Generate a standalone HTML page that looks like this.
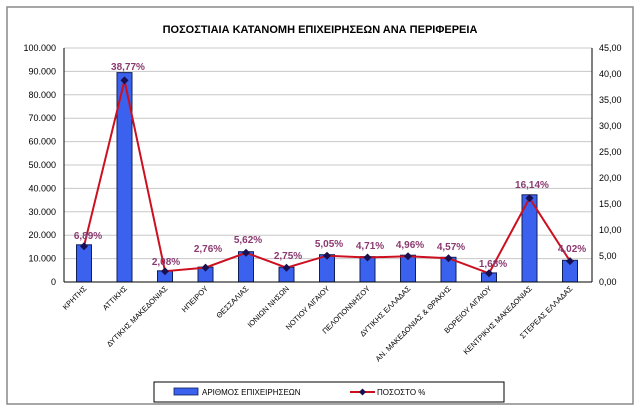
<!DOCTYPE html><html><head><meta charset="utf-8"><style>body{margin:0;background:#fff}</style></head><body>
<svg width="640" height="412" xmlns="http://www.w3.org/2000/svg" font-family="Liberation Sans, DejaVu Sans, sans-serif">
<rect x="0" y="0" width="640" height="412" fill="#fff"/>
<rect x="7" y="7" width="626" height="397" fill="#fff" stroke="#888" stroke-width="1.5"/>
<text x="320" y="33" text-anchor="middle" font-size="11" font-weight="bold">ΠΟΣΟΣΤΙΑΙΑ ΚΑΤΑΝΟΜΗ ΕΠΙΧΕΙΡΗΣΕΩΝ ΑΝΑ ΠΕΡΙΦΕΡΕΙΑ</text>
<g id="grid" stroke="#c8c8c8" stroke-width="1">
<line x1="64" x2="592" y1="48" y2="48"/><line x1="64" x2="592" y1="71.4" y2="71.4"/><line x1="64" x2="592" y1="94.8" y2="94.8"/><line x1="64" x2="592" y1="118.2" y2="118.2"/><line x1="64" x2="592" y1="141.6" y2="141.6"/><line x1="64" x2="592" y1="165" y2="165"/><line x1="64" x2="592" y1="188.4" y2="188.4"/><line x1="64" x2="592" y1="211.8" y2="211.8"/><line x1="64" x2="592" y1="235.2" y2="235.2"/><line x1="64" x2="592" y1="258.6" y2="258.6"/>
</g>
<g font-size="9" fill="#000" text-anchor="end">
<text x="56" y="51">100.000</text><text x="56" y="74.4">90.000</text><text x="56" y="97.8">80.000</text><text x="56" y="121.2">70.000</text><text x="56" y="144.6">60.000</text><text x="56" y="168">50.000</text><text x="56" y="191.4">40.000</text><text x="56" y="214.8">30.000</text><text x="56" y="238.2">20.000</text><text x="56" y="261.6">10.000</text><text x="56" y="285">0</text>
</g>
<g font-size="9" fill="#000">
<text x="599" y="51">45,00</text><text x="599" y="77">40,00</text><text x="599" y="103">35,00</text><text x="599" y="129">30,00</text><text x="599" y="155">25,00</text><text x="599" y="181">20,00</text><text x="599" y="207">15,00</text><text x="599" y="233">10,00</text><text x="599" y="259">5,00</text><text x="599" y="285">0,00</text>
</g>
<g id="bars" fill="#3a62ee" stroke="#10205a" stroke-width="1">
<rect x="76.5" y="244.8" width="15" height="37.2"/>
<rect x="117" y="72.6" width="15" height="209.4"/>
<rect x="157.5" y="270.8" width="15" height="11.2"/>
<rect x="198" y="267.1" width="15" height="14.9"/>
<rect x="238.5" y="251.7" width="15" height="30.3"/>
<rect x="279" y="267.2" width="15" height="14.8"/>
<rect x="319.5" y="254.7" width="15" height="27.3"/>
<rect x="360" y="256.6" width="15" height="25.4"/>
<rect x="400.5" y="255.2" width="15" height="26.8"/>
<rect x="441" y="257.3" width="15" height="24.7"/>
<rect x="481.5" y="272.9" width="15" height="9.1"/>
<rect x="522" y="194.8" width="15" height="87.2"/>
<rect x="562.5" y="260.3" width="15" height="21.7"/>
</g>
<g stroke="#000" stroke-width="1">
<line x1="64" x2="64" y1="48" y2="282"/><line x1="592" x2="592" y1="48" y2="282"/><line x1="64" x2="592" y1="282" y2="282"/>
</g>
<polyline fill="none" stroke="#cc1020" stroke-width="2" points="84,246.2 124.5,80.4 165,271.2 205.5,267.6 246,252.8 286.5,267.7 327,255.7 367.5,257.5 408,256.2 448.5,258.2 489,273.3 529.5,198.1 570,261.1"/>
<g fill="#1a1050">
<path d="M84 242.2l4 4-4 4-4-4z"/><path d="M124.5 76.4l4 4-4 4-4-4z"/><path d="M165 267.2l4 4-4 4-4-4z"/><path d="M205.5 263.6l4 4-4 4-4-4z"/><path d="M246 248.8l4 4-4 4-4-4z"/><path d="M286.5 263.7l4 4-4 4-4-4z"/><path d="M327 251.7l4 4-4 4-4-4z"/><path d="M367.5 253.5l4 4-4 4-4-4z"/><path d="M408 252.2l4 4-4 4-4-4z"/><path d="M448.5 254.2l4 4-4 4-4-4z"/><path d="M489 269.3l4 4-4 4-4-4z"/><path d="M529.5 194.1l4 4-4 4-4-4z"/><path d="M570 257.1l4 4-4 4-4-4z"/>
</g>
<g font-size="10" font-weight="bold" fill="#8a3a70" text-anchor="middle">
<text x="88" y="239">6,89%</text><text x="128" y="70">38,77%</text><text x="166" y="265">2,08%</text><text x="208" y="252">2,76%</text><text x="248" y="243">5,62%</text><text x="288" y="259">2,75%</text><text x="329" y="247">5,05%</text><text x="370" y="249">4,71%</text><text x="410" y="248">4,96%</text><text x="451" y="250">4,57%</text><text x="493" y="267">1,68%</text><text x="532" y="188">16,14%</text><text x="572" y="252">4,02%</text>
</g>
<g font-size="7.5" fill="#000" text-anchor="end">
<text transform="translate(87,289) rotate(-45)">ΚΡΗΤΗΣ</text>
<text transform="translate(127.5,289) rotate(-45)">ΑΤΤΙΚΗΣ</text>
<text transform="translate(168,289) rotate(-45)">ΔΥΤΙΚΗΣ ΜΑΚΕΔΟΝΙΑΣ</text>
<text transform="translate(208.5,289) rotate(-45)">ΗΠΕΙΡΟΥ</text>
<text transform="translate(249,289) rotate(-45)">ΘΕΣΣΑΛΙΑΣ</text>
<text transform="translate(289.5,289) rotate(-45)">ΙΟΝΙΩΝ ΝΗΣΩΝ</text>
<text transform="translate(330,289) rotate(-45)">ΝΟΤΙΟΥ ΑΙΓΑΙΟΥ</text>
<text transform="translate(370.5,289) rotate(-45)">ΠΕΛΟΠΟΝΝΗΣΟΥ</text>
<text transform="translate(411,289) rotate(-45)">ΔΥΤΙΚΗΣ ΕΛΛΑΔΑΣ</text>
<text transform="translate(451.5,289) rotate(-45)">ΑΝ. ΜΑΚΕΔΟΝΙΑΣ &amp; ΘΡΑΚΗΣ</text>
<text transform="translate(492,289) rotate(-45)">ΒΟΡΕΙΟΥ ΑΙΓΑΙΟΥ</text>
<text transform="translate(532.5,289) rotate(-45)">ΚΕΝΤΡΙΚΗΣ ΜΑΚΕΔΟΝΙΑΣ</text>
<text transform="translate(573,289) rotate(-45)">ΣΤΕΡΕΑΣ ΕΛΛΑΔΑΣ</text>
</g>
<rect x="154" y="382" width="350" height="20" fill="#fff" stroke="#000" stroke-width="1"/>
<rect x="174" y="388" width="24" height="7" fill="#3a62ee" stroke="#10205a" stroke-width="0.8"/>
<text x="202" y="395" font-size="8">ΑΡΙΘΜΟΣ ΕΠΙΧΕΙΡΗΣΕΩΝ</text>
<line x1="350" x2="375" y1="392" y2="392" stroke="#cc1020" stroke-width="2"/>
<path d="M362.5 388.5l3.5 3.5-3.5 3.5-3.5-3.5z" fill="#1a1050"/>
<text x="377" y="395" font-size="8">ΠΟΣΟΣΤΟ %</text>
</svg>
</body></html>
